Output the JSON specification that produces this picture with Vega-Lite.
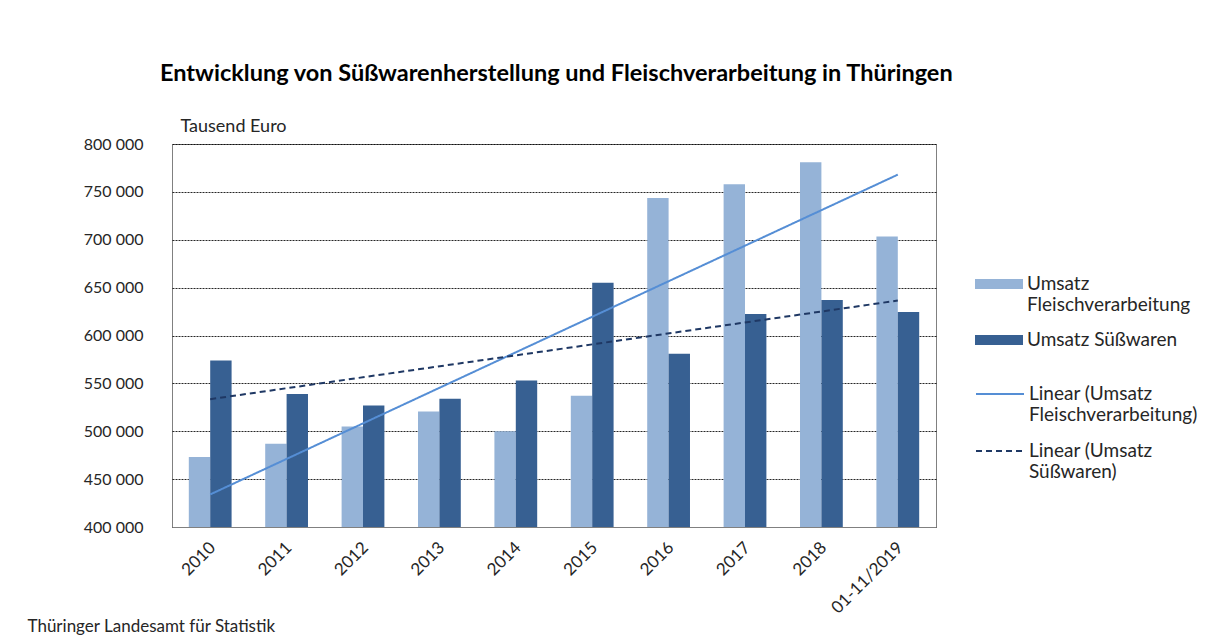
{
  "$schema": "https://vega.github.io/schema/vega-lite/v6.json",
  "width": 764,
  "height": 383,
  "autosize": {"type": "none"},
  "padding": {"left": 172, "top": 144, "right": 273, "bottom": 113},
  "background": "white",
  "title": {
    "text": "Entwicklung von Süßwarenherstellung und Fleischverarbeitung in Thüringen",
    "anchor": "start",
    "frame": "group",
    "offset": 32,
    "dx": -12,
    "font": "Lato",
    "fontSize": 23.5,
    "fontWeight": "bold",
    "color": "#000000"
  },
  "config": {
    "font": "Lato",
    "view": {"stroke": "#808080", "strokeWidth": 1}
  },
  "datasets": {
    "bars": [
      {"Jahr": "2010", "Reihe": "Umsatz Fleischverarbeitung", "Wert": 473000},
      {"Jahr": "2010", "Reihe": "Umsatz Süßwaren", "Wert": 574000},
      {"Jahr": "2011", "Reihe": "Umsatz Fleischverarbeitung", "Wert": 487000},
      {"Jahr": "2011", "Reihe": "Umsatz Süßwaren", "Wert": 539000},
      {"Jahr": "2012", "Reihe": "Umsatz Fleischverarbeitung", "Wert": 505000},
      {"Jahr": "2012", "Reihe": "Umsatz Süßwaren", "Wert": 527000},
      {"Jahr": "2013", "Reihe": "Umsatz Fleischverarbeitung", "Wert": 520500},
      {"Jahr": "2013", "Reihe": "Umsatz Süßwaren", "Wert": 534000},
      {"Jahr": "2014", "Reihe": "Umsatz Fleischverarbeitung", "Wert": 500000},
      {"Jahr": "2014", "Reihe": "Umsatz Süßwaren", "Wert": 553000},
      {"Jahr": "2015", "Reihe": "Umsatz Fleischverarbeitung", "Wert": 537000},
      {"Jahr": "2015", "Reihe": "Umsatz Süßwaren", "Wert": 655000},
      {"Jahr": "2016", "Reihe": "Umsatz Fleischverarbeitung", "Wert": 743500},
      {"Jahr": "2016", "Reihe": "Umsatz Süßwaren", "Wert": 581000},
      {"Jahr": "2017", "Reihe": "Umsatz Fleischverarbeitung", "Wert": 758000},
      {"Jahr": "2017", "Reihe": "Umsatz Süßwaren", "Wert": 622500},
      {"Jahr": "2018", "Reihe": "Umsatz Fleischverarbeitung", "Wert": 781000},
      {"Jahr": "2018", "Reihe": "Umsatz Süßwaren", "Wert": 637000},
      {"Jahr": "01-11/2019", "Reihe": "Umsatz Fleischverarbeitung", "Wert": 703500},
      {"Jahr": "01-11/2019", "Reihe": "Umsatz Süßwaren", "Wert": 624500}
    ],
    "trend": [
      {"Jahr": "2010", "Reihe": "Linear (Umsatz Fleischverarbeitung)", "Wert": 434000},
      {"Jahr": "01-11/2019", "Reihe": "Linear (Umsatz Fleischverarbeitung)", "Wert": 768000},
      {"Jahr": "2010", "Reihe": "Linear (Umsatz Süßwaren)", "Wert": 533500},
      {"Jahr": "01-11/2019", "Reihe": "Linear (Umsatz Süßwaren)", "Wert": 636500}
    ]
  },
  "layer": [
    {
      "data": {"name": "bars"},
      "mark": {"type": "bar", "clip": true},
      "encoding": {
        "x": {
          "field": "Jahr",
          "type": "nominal",
          "scale": {
            "domain": ["2010", "2011", "2012", "2013", "2014", "2015", "2016", "2017", "2018", "01-11/2019"],
            "paddingInner": 0.44,
            "paddingOuter": 0.22
          },
          "axis": {
            "labelAngle": -45,
            "labelFontSize": 17,
            "labelColor": "#262626",
            "ticks": false,
            "domainColor": "#808080",
            "labelPadding": 12,
            "labelOffset": -3,
            "grid": false,
            "title": "Thüringer Landesamt für Statistik",
            "titleX": -145,
            "titleY": 99,
            "titleAlign": "left",
            "titleBaseline": "middle",
            "titleAngle": 0,
            "titleFontSize": 17,
            "titleFontWeight": "normal",
            "titleColor": "#262626"
          }
        },
        "xOffset": {
          "field": "Reihe",
          "type": "nominal",
          "scale": {"domain": ["Umsatz Fleischverarbeitung", "Umsatz Süßwaren"]}
        },
        "y": {
          "field": "Wert",
          "type": "quantitative",
          "scale": {"domain": [400000, 800000], "nice": false, "zero": false},
          "axis": {
            "values": [400000, 450000, 500000, 550000, 600000, 650000, 700000, 750000, 800000],
            "labelExpr": "replace(format(datum.value, ','), ',', ' ')",
            "labelFontSize": 16,
            "labelColor": "#262626",
            "labelPadding": 29,
            "ticks": false,
            "domain": false,
            "gridColor": "#000000",
            "gridDash": [2, 1],
            "gridOpacity": 0.85,
            "title": "Tausend Euro",
            "titleAngle": 0,
            "titleX": 8,
            "titleY": -18,
            "titleAlign": "left",
            "titleBaseline": "middle",
            "titleFontSize": 18,
            "titleFontWeight": "normal",
            "titleColor": "#262626"
          }
        },
        "fill": {
          "field": "Reihe",
          "type": "nominal",
          "scale": {"domain": ["Umsatz Fleischverarbeitung", "Umsatz Süßwaren"], "range": ["#95B3D7", "#376092"]},
          "legend": {
            "title": null,
            "orient": "none",
            "legendX": 803,
            "legendY": 116,
            "symbolType": "M-1,-0.21H1V0.21H-1Z",
            "symbolSize": 2304,
            "symbolStrokeWidth": 0,
            "labelFontSize": 19,
            "labelLimit": 0,
            "labelColor": "#262626",
            "labelOffset": 4,
            "rowPadding": 1,
            "labelExpr": "datum.label == 'Umsatz Fleischverarbeitung' ? ['Umsatz', 'Fleischverarbeitung'] : datum.label"
          }
        }
      }
    },
    {
      "data": {"name": "trend"},
      "mark": {"type": "line", "strokeWidth": 2},
      "encoding": {
        "x": {"field": "Jahr", "type": "nominal"},
        "y": {"field": "Wert", "type": "quantitative"},
        "stroke": {
          "field": "Reihe",
          "type": "nominal",
          "scale": {"domain": ["Linear (Umsatz Fleischverarbeitung)", "Linear (Umsatz Süßwaren)"], "range": ["#558ED5", "#1F3864"]},
          "legend": {
            "title": null,
            "orient": "none",
            "legendX": 803,
            "legendY": 225,
            "symbolType": "stroke",
            "symbolSize": 2304,
            "symbolStrokeWidth": 2,
            "labelFontSize": 19,
            "labelLimit": 0,
            "labelColor": "#262626",
            "labelOffset": 4,
            "rowPadding": 1,
            "labelExpr": "datum.label == 'Linear (Umsatz Fleischverarbeitung)' ? ['Linear (Umsatz', 'Fleischverarbeitung)'] : ['Linear (Umsatz', 'Süßwaren)']"
          }
        },
        "strokeDash": {
          "field": "Reihe",
          "type": "nominal",
          "scale": {"domain": ["Linear (Umsatz Fleischverarbeitung)", "Linear (Umsatz Süßwaren)"], "range": [[1, 0], [6, 4]]}
        }
      }
    }
  ]
}
